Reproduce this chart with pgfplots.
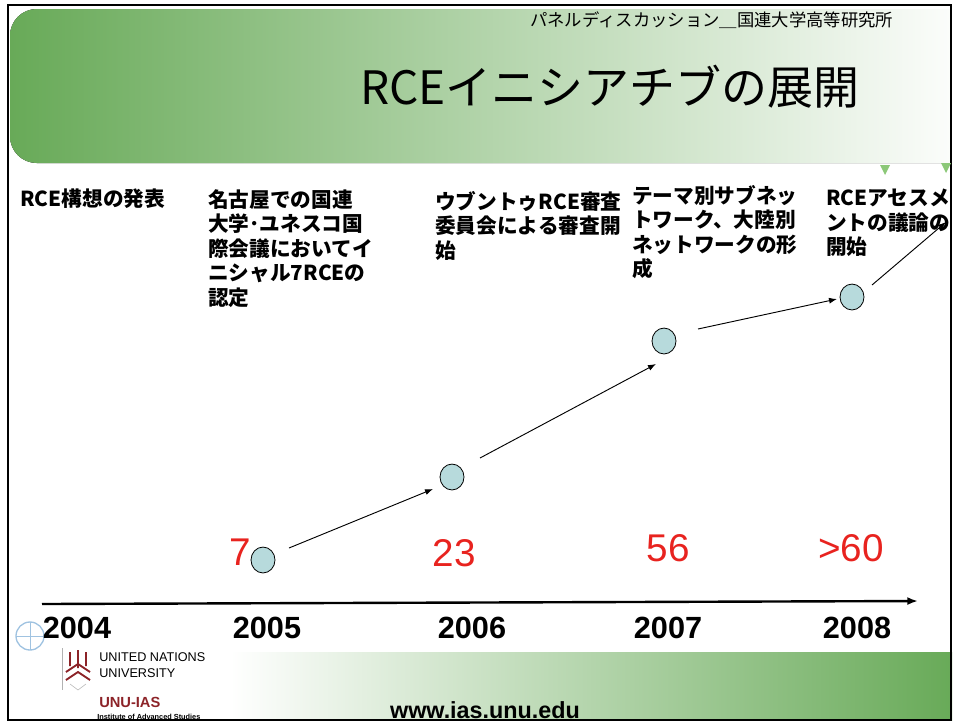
\documentclass[border=0pt]{standalone}
\usepackage{pgfplots}
\pgfplotsset{compat=1.18}
\usepackage{fontspec}
\setmainfont{Liberation Sans}
\newfontfamily\jp{Noto Sans CJK JP}
\usetikzlibrary{arrows.meta}
\definecolor{hdrgreen}{RGB}{104,170,88}
\definecolor{dotfill}{RGB}{183,218,220}
\definecolor{numred}{RGB}{232,35,31}
\definecolor{unured}{RGB}{140,35,40}
\definecolor{unblue}{RGB}{160,195,225}
\definecolor{trigreen}{RGB}{140,200,120}
\begin{document}
\begin{tikzpicture}
\useasboundingbox (0,0) rectangle (716.25pt,541.5pt);
\begin{axis}[at={(0,0)}, anchor=south west, scale only axis,
  width=716.25pt, height=541.5pt,
  xmin=0, xmax=955, ymin=0, ymax=722, y dir=reverse,
  hide axis, clip=false]
% header band
\fill[left color=hdrgreen, right color=white, rounded corners=20pt]
  (axis cs:10,9) rectangle (axis cs:975,163);
\fill[white] (axis cs:952,0) rectangle (axis cs:980,200);
% bottom band
\fill[left color=white, right color=hdrgreen] (axis cs:230,652) rectangle (axis cs:952,720);
% frame
\draw[black, line width=1.6pt] (axis cs:8,5) rectangle (axis cs:951,720);
% header texts
\node[anchor=west, inner sep=0pt, font=\jp\fontsize{13}{15}\selectfont] at (axis cs:530,20) {パネルディスカッション＿国連大学高等研究所};
\node[anchor=west, inner sep=0pt, font=\jp\fontsize{34.5}{38}\selectfont] at (axis cs:360,87) {RCEイニシアチブの展開};
% small triangles
\fill[trigreen] (axis cs:880,165) -- (axis cs:890,165) -- (axis cs:885,175) -- cycle;
\fill[trigreen] (axis cs:941,163) -- (axis cs:951,163) -- (axis cs:946,173) -- cycle;
% milestone texts
\tikzset{ms/.style={anchor=north west, inner sep=0pt, align=left, font=\jp\bfseries\fontsize{15.5}{18.4}\selectfont}}
\node[ms] at (axis cs:20,189) {RCE構想の発表};
\node[ms] at (axis cs:208,189) {名古屋での国連\\大学･ユネスコ国\\際会議においてイ\\ニシャル7RCEの\\認定};
\node[ms] at (axis cs:435,191) {ウブントゥRCE審査\\委員会による審査開\\始};
\node[ms] at (axis cs:632,185) {テーマ別サブネッ\\トワーク、大陸別\\ネットワークの形\\成};
\node[ms] at (axis cs:826,189) {RCEアセスメ\\ントの議論の\\開始};
% arrows between milestones
\tikzset{ar/.style={black, line width=0.7pt, -{Latex[length=6pt,width=4.5pt]}}}
\draw[ar] (axis cs:289,548) -- (axis cs:433,489);
\draw[ar] (axis cs:480,458) -- (axis cs:656,364);
\draw[ar] (axis cs:698,329) -- (axis cs:837,299);
\draw[ar] (axis cs:872,285) -- (axis cs:946,222);
% milestone points
\addplot[only marks, mark=*, mark size=9pt,
  mark options={fill=dotfill, draw=black, line width=0.6pt, yscale=1.08}]
  coordinates {(263,560) (452,477) (664,341) (852,297)};
% counts
\tikzset{cnt/.style={inner sep=0pt, text=numred, font=\fontsize{29}{32}\selectfont}}
\node[cnt] at (axis cs:240,552) {7};
\node[cnt] at (axis cs:454,553) {23};
\node[cnt] at (axis cs:668,548) {56};
\node[cnt] at (axis cs:851,548) {>60};
% timeline
\draw[black, line width=1.8pt, -{Latex[length=8pt,width=6pt]}] (axis cs:42,604) -- (axis cs:918,601);
\tikzset{yr/.style={inner sep=0pt, font=\bfseries\fontsize{23}{26}\selectfont}}
% logos
\draw[unblue, line width=1pt] (axis cs:30,636) circle[radius=10.5pt];
\draw[unblue, line width=0.6pt] (axis cs:16,636) -- (axis cs:44,636) (axis cs:30,622) -- (axis cs:30,650);
\draw[gray!60, line width=0.6pt] (axis cs:62,648) -- (axis cs:62,690);
\draw[unured, line width=1.4pt] (axis cs:78,650) -- (axis cs:78,668) (axis cs:70,652) -- (axis cs:70,666) (axis cs:86,652) -- (axis cs:86,666)
  (axis cs:66,672) -- (axis cs:78,664) -- (axis cs:90,672) (axis cs:66,680) -- (axis cs:78,672) -- (axis cs:90,680);
\draw[gray!50, line width=0.5pt] (axis cs:70,684) -- (axis cs:78,690) -- (axis cs:86,684);
\node[yr] at (axis cs:77,628) {2004};
\node[yr] at (axis cs:267,628) {2005};
\node[yr] at (axis cs:472,628) {2006};
\node[yr] at (axis cs:668,628) {2007};
\node[yr] at (axis cs:857,628) {2008};
\node[anchor=west, inner sep=0pt, font=\fontsize{9.5}{11}\selectfont] at (axis cs:99,657) {UNITED NATIONS};
\node[anchor=west, inner sep=0pt, font=\fontsize{9.5}{11}\selectfont] at (axis cs:99,673) {UNIVERSITY};
\node[anchor=west, inner sep=0pt, text=unured, font=\bfseries\fontsize{11}{13}\selectfont] at (axis cs:99,702) {UNU-IAS};
\node[anchor=west, inner sep=0pt, font=\bfseries\fontsize{5.5}{6}\selectfont] at (axis cs:97,717) {Institute of Advanced Studies};
\node[inner sep=0pt, font=\bfseries\fontsize{17.5}{19}\selectfont] at (axis cs:485,710) {www.ias.unu.edu};
\end{axis}
\end{tikzpicture}
\end{document}
